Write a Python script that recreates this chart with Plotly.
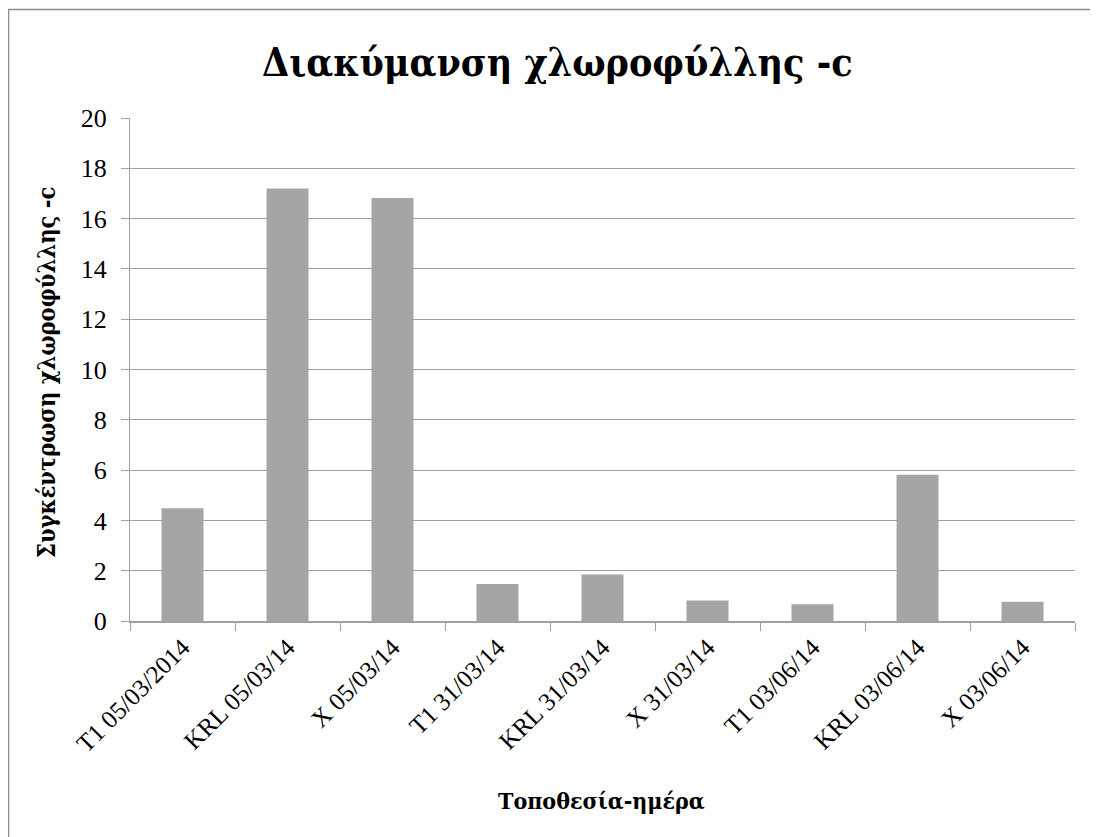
import plotly.graph_objects as go

categories = ["T1 05/03/2014", "KRL 05/03/14", "X 05/03/14", "T1 31/03/14",
              "KRL 31/03/14", "X 31/03/14", "T1 03/06/14", "KRL 03/06/14", "X 03/06/14"]
values = [4.48, 17.2, 16.82, 1.47, 1.85, 0.82, 0.67, 5.82, 0.77]
y_ticks = [0, 2, 4, 6, 8, 10, 12, 14, 16, 18, 20]

title_text = "Διακύμανση χλωροφύλλης -c"
y_title = "Συγκέντρωση χλωροφύλλης -c"
x_title = "Τοποθεσία-ημέρα"

OFF = 8  # page body margin
W, H = 1098, 837
L, R, T, B = 130 - OFF, 1075 - OFF, 118 - OFF, 621 - OFF
FONT = "Liberation Serif"
GREEK = "DejaVu Serif Condensed"

fig = go.Figure(go.Bar(
    x=categories, y=values,
    marker=dict(color="#a5a5a5", line=dict(width=0)),
))

def px_x(px):
    return (px - OFF - L) / (R - L)

def px_y(py):
    return (B - (py - OFF)) / (B - T)

fig.update_layout(
    width=W, height=H,
    margin=dict(l=L, r=W - R, t=T, b=H - B, pad=0),
    paper_bgcolor="white", plot_bgcolor="white",
    bargap=0.6,
    showlegend=False,
    font=dict(family=FONT, color="black"),
    xaxis=dict(
        type="category",
        tickangle=-45,
        tickfont=dict(size=25, family=FONT),
        showgrid=False,
        showline=True, linecolor="#a0a0a0", linewidth=1.5,
        ticks="outside", ticklen=8, tickcolor="#a0a0a0", tickwidth=1,
        tickson="boundaries",
        range=[-0.5, 8.5],
    ),
    yaxis=dict(
        range=[0, 20],
        tickvals=y_ticks,
        tickfont=dict(size=26, family=FONT),
        showgrid=True, gridcolor="#a0a0a0", gridwidth=1.2,
        showline=True, linecolor="#a0a0a0", linewidth=1,
        ticks="outside", ticklen=8, tickcolor="#a0a0a0",
        zeroline=False,
        ticklabelstandoff=9,
    ),
    shapes=[dict(
        type="rect", xref="paper", yref="paper",
        x0=px_x(8.5), x1=px_x(1120), y0=px_y(860), y1=px_y(9.5),
        line=dict(color="#8c8c8c", width=1.5), fillcolor="rgba(0,0,0,0)",
        layer="below",
    )],
    annotations=[
        dict(text=title_text, xref="paper", yref="paper",
             x=px_x(557), y=px_y(62), xanchor="center", yanchor="middle",
             showarrow=False,
             font=dict(size=39, family=GREEK, weight="bold", color="black")),
        dict(text=y_title, xref="paper", yref="paper",
             x=px_x(47), y=px_y(373), xanchor="center", yanchor="middle",
             textangle=-90, showarrow=False,
             font=dict(size=23.5, family=GREEK, weight="bold", color="black")),
        dict(text=x_title, xref="paper", yref="paper",
             x=px_x(601), y=px_y(800), xanchor="center", yanchor="middle",
             showarrow=False,
             font=dict(size=23, family=GREEK, weight="bold", color="black")),
    ],
)

fig.write_html("out.html")
